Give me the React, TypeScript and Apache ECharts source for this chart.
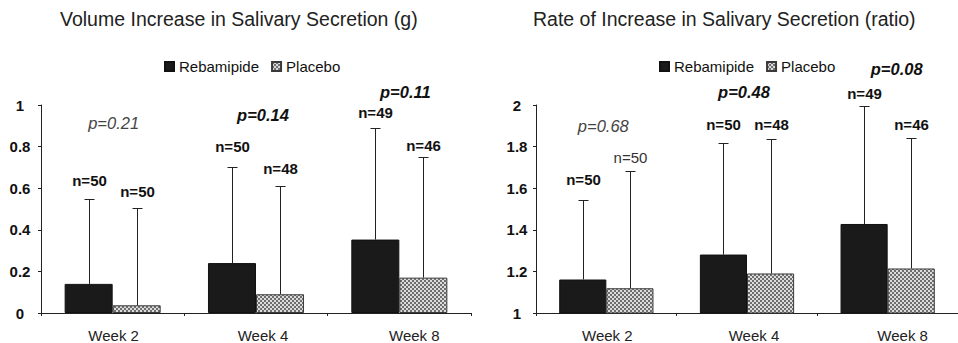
import React, { useEffect, useRef } from 'react';
import * as echarts from 'echarts';

// ---------- data ----------
const categories = ['Week 2', 'Week 4', 'Week 8'];
const seriesNames = ['Rebamipide', 'Placebo'];

const volumeRebamipide = [0.14, 0.24, 0.353];
const volumePlacebo = [0.037, 0.09, 0.17];
const volumeRebamipideUpper = [0.547, 0.7, 0.89];
const volumePlaceboUpper = [0.505, 0.61, 0.748];
const volumeRebamipideN = ['n=50', 'n=50', 'n=49'];
const volumePlaceboN = ['n=50', 'n=48', 'n=46'];
const volumeP = ['p=0.21', 'p=0.14', 'p=0.11'];

const ratioRebamipide = [1.161, 1.281, 1.428];
const ratioPlacebo = [1.119, 1.19, 1.214];
const ratioRebamipideUpper = [1.541, 1.816, 1.997];
const ratioPlaceboUpper = [1.681, 1.835, 1.841];
const ratioRebamipideN = ['n=50', 'n=50', 'n=49'];
const ratioPlaceboN = ['n=50', 'n=48', 'n=46'];
const ratioP = ['p=0.68', 'p=0.48', 'p=0.08'];

const titles = ['Volume Increase in Salivary Secretion (g)', 'Rate of Increase in Salivary Secretion (ratio)'];

// ---------- layout / style ----------
const FONT = '"Liberation Sans", Arial, Helvetica, sans-serif';
const BAR_FRAC = 0.335;
const pBold = [false, true, true];
// n-label distance (px) above error-bar top: [chart][series][category]
const nOffset = [
  [[19, 21, 16], [17, 18, 12]],
  [[21, 19, 13], [14, 15, 14]],
];
const nBold = [
  [[true, true, true], [true, true, true]],
  [[true, true, true], [false, true, true]],
];
// p-label position: dx from category centre, dy from grid top (px)
const pDx = [[1, 7, 6], [-3, -3, 9]];
const pDy = [[18, 10, -13], [21, -13, -36]];
const labelShift = [2, 14, 30];

function makeChecker(): string {
  const c = document.createElement('canvas');
  c.width = 4;
  c.height = 4;
  const ctx = c.getContext('2d')!;
  ctx.fillStyle = '#dcdcdc';
  ctx.fillRect(0, 0, 4, 4);
  ctx.fillStyle = '#6e6e6e';
  ctx.fillRect(0, 0, 2, 2);
  ctx.fillRect(2, 2, 2, 2);
  return c.toDataURL();
}

export default function App() {
  const ref = useRef<HTMLDivElement>(null);

  useEffect(() => {
    if (!ref.current) return;
    const chart = echarts.init(ref.current, undefined, { renderer: 'svg' });
    const checker = makeChecker();
    const placeboFill: any = { image: checker, repeat: 'repeat', imageWidth: 4, imageHeight: 4 };

    const grids = [
      { left: 41, top: 105, width: 430, height: 208 },
      { left: 536, top: 105, width: 430, height: 208 },
    ];
    const yRanges = [
      { min: 0, max: 1 },
      { min: 1, max: 2 },
    ];
    const barData = [
      [volumeRebamipide, volumePlacebo],
      [ratioRebamipide, ratioPlacebo],
    ];
    const upperData = [
      [volumeRebamipideUpper, volumePlaceboUpper],
      [ratioRebamipideUpper, ratioPlaceboUpper],
    ];
    const nData = [
      [volumeRebamipideN, volumePlaceboN],
      [ratioRebamipideN, ratioPlaceboN],
    ];
    const pData = [volumeP, ratioP];

    const series: any[] = [];
    [0, 1].forEach((g) => {
      [0, 1].forEach((s) => {
        series.push({
          type: 'bar',
          name: seriesNames[s],
          xAxisIndex: g,
          yAxisIndex: g,
          data: barData[g][s],
          barWidth: BAR_FRAC * 100 + '%',
          barGap: '0%',
          itemStyle: {
            color: s === 0 ? '#1a1a1a' : placeboFill,
            borderColor: s === 0 ? '#111' : '#3a3a3a',
            borderWidth: 1,
          },
          z: 2,
        });
      });
      // error bars + n labels
      [0, 1].forEach((s) => {
        series.push({
          type: 'custom',
          name: 'err' + g + s,
          xAxisIndex: g,
          yAxisIndex: g,
          z: 4,
          silent: true,
          data: categories.map((_, i) => [i, barData[g][s][i], upperData[g][s][i]]),
          renderItem: (params: any, api: any) => {
            const i = api.value(0);
            const base = api.value(1);
            const top = api.value(2);
            const band = api.size([1, 0])[0];
            const bw = band * BAR_FRAC;
            const p0 = api.coord([i, base]);
            const p1 = api.coord([i, top]);
            const x = Math.round(p0[0] + (s === 0 ? -bw / 2 : bw / 2)) + 0.5;
            const yb = p0[1];
            const yt = Math.round(p1[1]) + 0.5;
            const lineStyle = { stroke: '#222', lineWidth: 1 };
            return {
              type: 'group',
              children: [
                { type: 'line', shape: { x1: x, y1: yb, x2: x, y2: yt }, style: lineStyle },
                { type: 'line', shape: { x1: x - 5, y1: yt, x2: x + 5, y2: yt }, style: lineStyle },
                {
                  type: 'text',
                  x: x,
                  y: yt - nOffset[g][s][i],
                  style: {
                    text: nData[g][s][i],
                    align: 'center',
                    verticalAlign: 'middle',
                    font: (nBold[g][s][i] ? 'bold ' : '') + '15px ' + FONT,
                    fill: nBold[g][s][i] ? '#111' : '#333',
                  },
                },
              ],
            };
          },
        });
      });
      // p labels
      series.push({
        type: 'custom',
        name: 'p' + g,
        xAxisIndex: g,
        yAxisIndex: g,
        z: 4,
        silent: true,
        data: categories.map((_, i) => [i, yRanges[g].max]),
        renderItem: (params: any, api: any) => {
          const i = api.value(0);
          const pt = api.coord([i, api.value(1)]);
          const bold = pBold[i];
          return {
            type: 'text',
            x: pt[0] + pDx[g][i],
            y: pt[1] + pDy[g][i],
            style: {
              text: pData[g][i],
              align: 'center',
              verticalAlign: 'middle',
              font: 'italic ' + (bold ? 'bold ' : '') + '16.5px ' + FONT,
              fill: bold ? '#111' : '#444',
            },
          };
        },
      });
    });

    const option: any = {
      animation: false,
      backgroundColor: '#ffffff',
      title: [
        { text: titles[0], left: 55, top: 4, textStyle: { fontFamily: FONT, fontSize: 19.5, fontWeight: 'normal', color: '#222' } },
        { text: titles[1], left: 528, top: 4, textStyle: { fontFamily: FONT, fontSize: 19.5, fontWeight: 'normal', color: '#222' } },
      ],
      legend: [
        { left: 164, top: 59 },
        { left: 659, top: 59 },
      ].map((l) => ({
        ...l,
        padding: 0,
        data: seriesNames,
        icon: 'rect',
        itemWidth: 9,
        itemHeight: 9,
        itemGap: 12,
        selectedMode: false,
        textStyle: { fontFamily: FONT, fontSize: 15, color: '#111', lineHeight: 15 },
      })),
      grid: grids,
      xAxis: [0, 1].map((g) => ({
        type: 'category',
        gridIndex: g,
        data: categories.map((c, i) => ({ value: c, textStyle: { padding: [0, 0, 0, labelShift[i]] } })),
        axisLine: { lineStyle: { color: '#222', width: 1 } },
        axisTick: { show: true, length: 3, lineStyle: { color: '#222' } },
        axisLabel: { fontFamily: FONT, fontSize: 15, color: '#222', margin: 15 },
        splitLine: { show: false },
      })),
      yAxis: [0, 1].map((g) => ({
        type: 'value',
        gridIndex: g,
        min: yRanges[g].min,
        max: yRanges[g].max,
        interval: 0.2,
        axisLine: { show: true, lineStyle: { color: '#222', width: 1 } },
        axisTick: { show: true, length: 3, lineStyle: { color: '#222' } },
        axisLabel: {
          fontFamily: FONT,
          fontSize: 15,
          fontWeight: 'bold',
          color: '#111',
          align: 'center',
          margin: g === 0 ? 21 : 19,
        },
        splitLine: { show: false },
      })),
      series,
    };
    chart.setOption(option);
    return () => chart.dispose();
  }, []);

  return (
    <div
      ref={ref}
      style={{ position: 'absolute', left: 0, top: 0, width: 958, height: 343, background: '#fff' }}
    />
  );
}
